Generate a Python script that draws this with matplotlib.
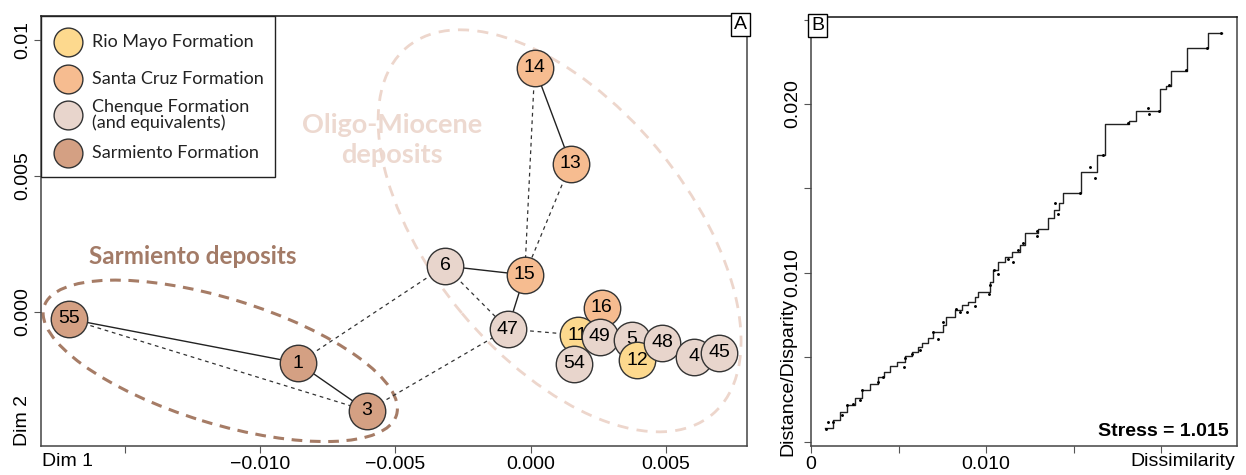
import matplotlib
matplotlib.use('Agg')
import matplotlib.pyplot as plt
from matplotlib.patches import Ellipse, Rectangle

plt.rcParams['font.family'] = ['Liberation Sans', 'DejaVu Sans']

# --- panel A: MDS ordination of sites ---
sites = ['55', '1', '3', '6', '15', '47', '14', '13', '16', '11', '54', '49', '5', '12', '48', '4', '45']
dim1 = [-0.01708, -0.00860, -0.00605, -0.00317, -0.00022, -0.00085, 0.00015, 0.00148,
        0.00262, 0.00174, 0.00162, 0.00255, 0.00373, 0.00395, 0.00487, 0.00605, 0.00697]
dim2 = [-0.00026, -0.00188, -0.00364, 0.00169, 0.00136, -0.00063, 0.00897, 0.00544,
        0.00015, -0.00085, -0.00191, -0.00092, -0.00103, -0.00177, -0.00114, -0.00165, -0.00151]
formation = ['Sarmiento', 'Sarmiento', 'Sarmiento', 'Chenque', 'Santa Cruz', 'Chenque',
             'Santa Cruz', 'Santa Cruz', 'Santa Cruz', 'Rio Mayo', 'Chenque', 'Chenque',
             'Chenque', 'Rio Mayo', 'Chenque', 'Chenque', 'Chenque']

solid_links = [('55', '1'), ('1', '3'), ('6', '15'), ('15', '47'), ('14', '13')]
dashed_links = [('55', '3'), ('1', '6'), ('3', '47'), ('6', '47'), ('47', '11'), ('14', '15'), ('13', '15')]

legend_names = ['Rio Mayo', 'Santa Cruz', 'Chenque', 'Sarmiento']
legend_labels = ['Rio Mayo Formation', 'Santa Cruz Formation',
                 'Chenque Formation\n(and equivalents)', 'Sarmiento Formation']
colors = {'Rio Mayo': '#FDD98E', 'Santa Cruz': '#F6BC90', 'Chenque': '#E8D5CC', 'Sarmiento': '#D4A083'}

# --- panel B: Shepard diagram ---
step_dis = [0.00080, 0.00126, 0.00166, 0.00206, 0.00251, 0.00291, 0.00337, 0.00383, 0.00417,
            0.00451, 0.00491, 0.00537, 0.00577, 0.00611, 0.00634, 0.00669, 0.00697, 0.00754,
            0.00771, 0.00823, 0.00863, 0.00897, 0.00937, 0.00954, 0.01023, 0.01040, 0.01069,
            0.01109, 0.01149, 0.01194, 0.01223, 0.01297, 0.01354, 0.01389, 0.01417, 0.01440,
            0.01543, 0.01634, 0.01680, 0.01817, 0.01857, 0.01994, 0.02029, 0.02057, 0.02149,
            0.02269, 0.02349]
step_fit = [0.00083, 0.00130, 0.00178, 0.00219, 0.00260, 0.00308, 0.00343, 0.00385, 0.00414,
            0.00450, 0.00473, 0.00509, 0.00533, 0.00562, 0.00586, 0.00615, 0.00651, 0.00692,
            0.00740, 0.00781, 0.00811, 0.00828, 0.00858, 0.00888, 0.00947, 0.01018, 0.01065,
            0.01095, 0.01124, 0.01166, 0.01237, 0.01260, 0.01325, 0.01373, 0.01414, 0.01473,
            0.01598, 0.01698, 0.01882, 0.01899, 0.01959, 0.02089, 0.02107, 0.02195, 0.02331,
            0.02420, 0.02420]
pt_dis = [0.01594, 0.01623, 0.01926, 0.01931, 0.01394, 0.01411, 0.01291, 0.01291, 0.01211,
          0.01183, 0.01126, 0.01154, 0.01046, 0.01069, 0.01023, 0.01017, 0.00937, 0.00891,
          0.00851, 0.00829, 0.00754, 0.00726, 0.00697, 0.00623, 0.00577, 0.00537, 0.00531,
          0.00411, 0.00383, 0.00291, 0.00280, 0.00240, 0.00206, 0.00177, 0.00126, 0.00097,
          0.00086, 0.02263, 0.02143, 0.02046, 0.01989, 0.01811, 0.01669, 0.01537, 0.02343]
pt_dist = [0.01627, 0.01562, 0.01976, 0.01941, 0.01414, 0.01349, 0.01249, 0.01219, 0.01178,
           0.01136, 0.01083, 0.01065, 0.01018, 0.00994, 0.00929, 0.00876, 0.00805, 0.00769,
           0.00769, 0.00787, 0.00710, 0.00609, 0.00651, 0.00544, 0.00521, 0.00497, 0.00444,
           0.00385, 0.00355, 0.00308, 0.00249, 0.00225, 0.00219, 0.00160, 0.00118, 0.00118,
           0.00077, 0.02331, 0.02201, 0.02112, 0.01959, 0.01888, 0.01698, 0.01473, 0.02420]
stress = 1.015

fig = plt.figure(figsize=(12.46, 4.75), dpi=100)
axA = fig.add_axes([0.0329, 0.0611, 0.5666, 0.9053])
axB = fig.add_axes([0.6509, 0.0611, 0.3419, 0.9031])

# ellipses
axA.add_patch(Ellipse((0.00107, 0.00298), 0.0176, 0.00943, angle=-50, fill=False,
                      ec='#EDD6CC', lw=2.0, ls=(0, (4, 3)), zorder=1))
axA.add_patch(Ellipse((-0.01148, -0.00180), 0.01363, 0.0046, angle=-17, fill=False,
                      ec='#A67C66', lw=2.2, ls=(0, (3.5, 2.5)), zorder=1))
axA.text(-0.00513, 0.00632, 'Oligo-Miocene\ndeposits', color='#EDD9D0', fontsize=19.5,
         fontweight='bold', family=['Lato', 'DejaVu Sans'], ha='center', va='center',
         linespacing=1.3, zorder=1)
axA.text(-0.01251, 0.00202, 'Sarmiento deposits', color='#A37B67', fontsize=17.5,
         fontweight='bold', family=['Lato', 'DejaVu Sans'], ha='center', va='center', zorder=1)

pos = {s: (x, y) for s, x, y in zip(sites, dim1, dim2)}
for a, b in solid_links:
    axA.plot([pos[a][0], pos[b][0]], [pos[a][1], pos[b][1]], color='#222222', lw=1.0, zorder=2)
for a, b in dashed_links:
    axA.plot([pos[a][0], pos[b][0]], [pos[a][1], pos[b][1]], color='#333333', lw=0.9,
             ls=(0, (3, 3)), zorder=2)

for i, (s, x, y, f) in enumerate(zip(sites, dim1, dim2, formation)):
    axA.scatter(x, y, s=690, color=colors[f], edgecolor='#333333', linewidth=1.0, zorder=3 + 2 * i)
    axA.text(x, y, s, ha='center', va='center', fontsize=14, color='black', zorder=4 + 2 * i)

axA.set_xlim(-0.01811, 0.0080)
axA.set_ylim(-0.00493, 0.01088)
axA.set_xticks([-0.015, -0.010, -0.005, 0.000, 0.005])
axA.set_xticklabels(['', '\u22120.010', '\u22120.005', '0.000', '0.005'])
axA.set_yticks([0.000, 0.005, 0.010])
axA.set_yticklabels(['0.000', '0.005', '0.01'], rotation=90, va='center')

# legend box drawn in axes coordinates
axA.add_patch(Rectangle((0, 0.6256), 0.3314, 0.3744, transform=axA.transAxes, fc='white',
                        ec='#222222', lw=1.0, zorder=40))
leg_y = [0.9395, 0.8535, 0.7698, 0.6814]
for name, lab, ly in zip(legend_names, legend_labels, leg_y):
    axA.scatter(0.0382, ly, s=430, color=colors[name], edgecolor='#333333', linewidth=1.0,
                transform=axA.transAxes, zorder=41)
    axA.text(0.0722, ly, lab, transform=axA.transAxes, ha='left', va='center', fontsize=13,
             family=['Lato', 'DejaVu Sans'], color='#222222', linespacing=0.95, zorder=42)

axA.text(1.0, 1.0, 'A', transform=axA.transAxes, ha='right', va='top', fontsize=14,
         bbox=dict(boxstyle='square,pad=0.15', fc='white', ec='black', lw=1.0), zorder=50)

# --- panel B ---
axB.plot(step_dis, step_fit, drawstyle='steps-post', color='#222222', lw=1.0)
axB.scatter(pt_dis, pt_dist, s=1.2, color='black', zorder=3)
axB.set_xlim(0, 0.02434)
axB.set_ylim(-0.00024, 0.02515)
axB.set_xticks([0, 0.005, 0.010, 0.015, 0.020])
axB.set_xticklabels(['0', '', '0.010', '', ''])
axB.set_yticks([0, 0.005, 0.010, 0.015, 0.020, 0.025])
axB.set_yticklabels(['', '', '0.010', '', '0.020', ''], rotation=90, va='center')
axB.text(0.981, 0.014, 'Stress = %.3f' % stress, transform=axB.transAxes, ha='right',
         va='bottom', fontsize=14, fontweight='bold')
axB.text(0.0, 1.0, 'B', transform=axB.transAxes, ha='left', va='top', fontsize=14,
         bbox=dict(boxstyle='square,pad=0.15', fc='white', ec='black', lw=1.0), zorder=50)

for ax in (axA, axB):
    ax.tick_params(direction='out', length=5, width=0.8, color='#555555', labelsize=14, pad=2)
    for sp in ax.spines.values():
        sp.set_color('#444444')
        sp.set_linewidth(1.1)
    ax.spines['top'].set_color('#111111')

fig.text(0.0337, 0.0274, 'Dim 1', ha='left', va='center', fontsize=14)
fig.text(0.0177, 0.0611, 'Dim 2', ha='center', va='bottom', rotation=90, fontsize=14)
fig.text(0.9912, 0.0274, 'Dissimilarity', ha='right', va='center', fontsize=14)
fig.text(0.6324, 0.3726, 'Distance/Disparity', ha='center', va='top', rotation=90, fontsize=14)

fig.savefig('out.png', dpi=100)
